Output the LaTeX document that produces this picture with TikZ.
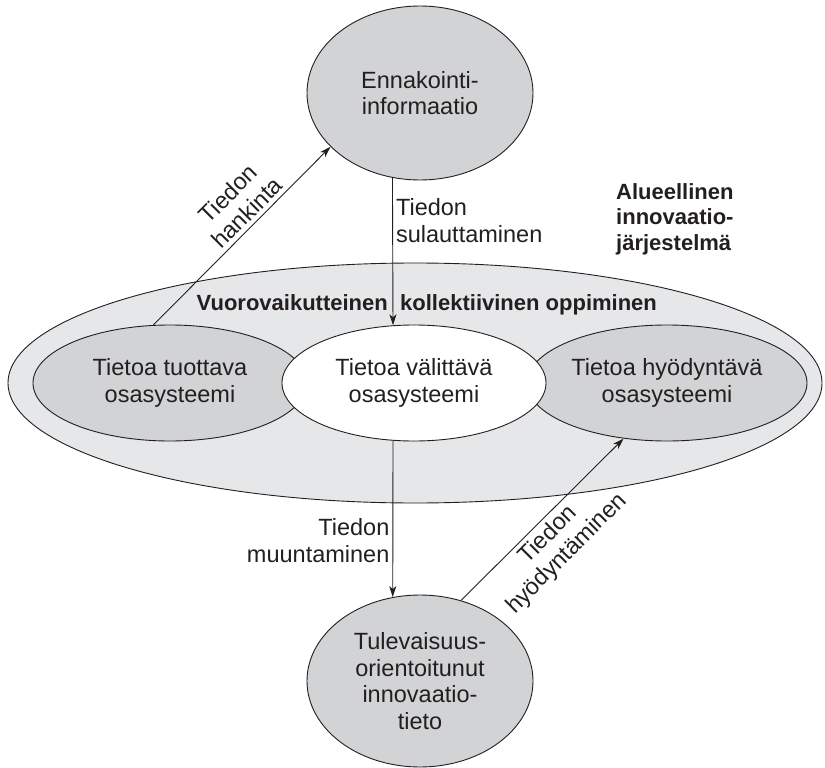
\documentclass[tikz,border=0pt]{standalone}
\usepackage{fontspec}
\setmainfont{Liberation Sans}
\usetikzlibrary{shapes.geometric,arrows.meta}
\definecolor{outerfill}{HTML}{E6E7E8}
\definecolor{innerfill}{HTML}{D1D3D4}
\definecolor{ink}{HTML}{231F20}
\begin{document}
\begin{tikzpicture}[x=1pt,y=-1pt,
  every node/.style={font=\fontsize{23.5}{26.5}\selectfont, text=ink},
  ell/.style={ellipse, draw=ink, line width=0.9pt, inner sep=0pt, align=center},
  arr/.style={draw=ink, line width=0.9pt, -{Stealth[length=11pt,width=7pt,inset=3pt]}},
  lbl/.style={align=center, inner sep=4pt},
  boldlbl/.style={font=\bfseries\fontsize{22}{25.5}\selectfont, inner sep=0pt}
]
\useasboundingbox (0,0) rectangle (825,768);
% outer system
\node[ell, fill=outerfill, minimum width=814pt, minimum height=240pt] (B) at (415,383) {};
% subsystems
\node[ell, fill=innerfill, minimum width=274pt, minimum height=116pt] (L) at (170,383) {Tietoa tuottava\\osasysteemi};
\node[ell, fill=innerfill, minimum width=280pt, minimum height=116pt] (R) at (667,383) {Tietoa hyödyntävä\\osasysteemi};
\node[ell, fill=white, minimum width=264pt, minimum height=116pt] (M) at (414,383) {Tietoa välittävä\\osasysteemi};
% top and bottom
\node[ell, fill=innerfill, minimum width=226pt, minimum height=174pt] (T) at (420,93) {Ennakointi-\\informaatio};
\node[ell, fill=innerfill, minimum width=226pt, minimum height=172pt] (D) at (420,681) {Tulevaisuus-\\orientoitunut\\innovaatio-\\tieto};
% titles
\node[boldlbl, anchor=base east] (V1) at (388,310) {Vuorovaikutteinen};
\node[boldlbl, anchor=base west] (V2) at (400,310) {kollektiivinen oppiminen};
\node[boldlbl, anchor=north west, align=left] (A) at (616,183) {Alueellinen\\innovaatio-\\järjestelmä};
% connectors
\draw[arr] (L.106) -- node[lbl, pos=0.58, rotate=45, anchor=south] {Tiedon\\hankinta} (T.211);
\draw[arr] (T.252) -- node[pos=0.29, anchor=west, align=left, inner sep=3pt] {Tiedon\\sulauttaminen} (M.110);
\draw[arr] (M.250) -- node[pos=0.64, anchor=east, align=right, inner sep=3pt] {Tiedon\\muuntaminen} (D.108);
\draw[arr] (D.63) -- node[lbl, pos=0.47, rotate=45, anchor=north] {Tiedon\\hyödyntäminen} (R.232);
\end{tikzpicture}
\end{document}
